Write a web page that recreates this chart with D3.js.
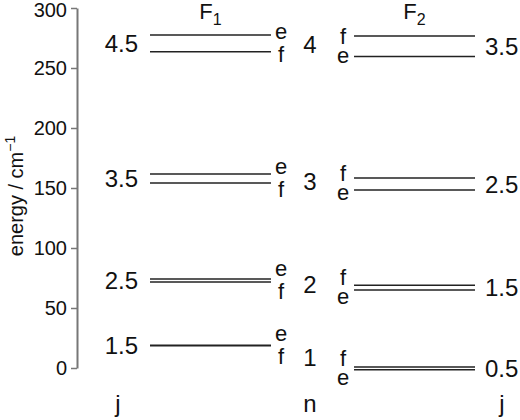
<!DOCTYPE html>
<html>
<head>
<meta charset="utf-8">
<script src="https://cdn.jsdelivr.net/npm/d3@7"></script>
<style>
  body { margin: 0; background: #fff; }
  svg text { font-family: "Liberation Sans", Arial, Helvetica, sans-serif; fill: #111; }
</style>
</head>
<body>
<div id="chart"></div>
<script>
// energy levels (cm^-1), one entry per rotational level
const f1J = ["1.5", "2.5", "3.5", "4.5"]
const nLabels = ["1", "2", "3", "4"]
const f2J = ["0.5", "1.5", "2.5", "3.5"]
const f1E = [18.9, 74.2, 161.7, 277.5]
const f1F = [18.5, 71.7, 154.2, 263.6]
const f2E = [-1.5, 65.0, 148.3, 259.5]
const f2F = [0.8, 68.9, 158.3, 276.7]
const yTicks = [0, 50, 100, 150, 200, 250, 300]
const groups = ["F1", "F2"]

const width = 520, height = 420

const svg = d3.select("#chart").append("svg")
  .attr("width", width).attr("height", height)

const y = d3.scaleLinear().domain([0, 300]).range([368, 8])
const x = d3.scaleBand().domain(groups).range([150, 475]).paddingInner(0.407)

// y axis
const axisX = 77
svg.append("g")
  .attr("transform", `translate(${axisX},0)`)
  .call(d3.axisLeft(y).tickValues(yTicks).tickSize(6).tickSizeOuter(0).tickPadding(4))
  .call(g => g.select(".domain").attr("stroke", "#777").attr("stroke-width", 2))
  .call(g => g.selectAll(".tick line").attr("stroke", "#777").attr("stroke-width", 1.5))
  .call(g => g.selectAll(".tick text").attr("font-size", 20).attr("fill", "#111")
    .attr("font-family", '"Liberation Sans", Arial, sans-serif'))
  .call(g => g.selectAll(".tick text").filter(d => d === 300).attr("dy", "0.42em"))

// axis title
const yt = svg.append("text")
  .attr("transform", "translate(23,196) rotate(-90)")
  .attr("text-anchor", "middle")
  .attr("font-size", 20)
yt.append("tspan").text("energy / cm")
yt.append("tspan").attr("dy", -8).attr("font-size", 14).text("\u22121")

// column titles
groups.forEach((g, i) => {
  const t = svg.append("text")
    .attr("x", x(g) + x.bandwidth() / 2)
    .attr("y", 19)
    .attr("text-anchor", "middle")
    .attr("font-size", 22)
  t.append("tspan").text("F")
  t.append("tspan").attr("dy", 6).attr("font-size", 16).text(i + 1)
})

const levels = nLabels.map((n, i) => ({
  n, j1: f1J[i], j2: f2J[i],
  f1: { e: f1E[i], f: f1F[i] },
  f2: { e: f2E[i], f: f2F[i] }
}))

const lab = 22
// place the two parity labels either side of their pair, pushed apart if too close
function parityLabels(pair, cx) {
  const ye = y(pair.e), yf = y(pair.f)
  const mid = (ye + yf) / 2
  const half = Math.max(Math.abs(ye - yf) / 2, 10.5)
  const eUp = ye <= yf
  const cE = eUp ? mid - half : mid + half
  const cF = eUp ? mid + half : mid - half
  svg.append("text").attr("x", cx).attr("y", cE + 0.27 * lab)
    .attr("text-anchor", "middle").attr("font-size", lab).text("e")
  svg.append("text").attr("x", cx).attr("y", cF + 0.36 * lab)
    .attr("text-anchor", "middle").attr("font-size", lab).text("f")
}

const lines = svg.append("g").attr("stroke", "#222").attr("stroke-width", 1.5)

levels.forEach(d => {
  ;[["F1", d.f1], ["F2", d.f2]].forEach(([g, pair]) => {
    ;["e", "f"].forEach(p => {
      lines.append("line")
        .attr("x1", x(g)).attr("x2", x(g) + x.bandwidth())
        .attr("y1", y(pair[p])).attr("y2", y(pair[p]))
    })
  })

  const m1 = (y(d.f1.e) + y(d.f1.f)) / 2
  const m2 = (y(d.f2.e) + y(d.f2.f)) / 2

  svg.append("text").attr("x", 138).attr("y", m1 + 0.36 * 24)
    .attr("text-anchor", "end").attr("font-size", 24).text(d.j1)
  svg.append("text").attr("x", 485).attr("y", m2 + 0.36 * 24)
    .attr("text-anchor", "start").attr("font-size", 24).text(d.j2)
  svg.append("text").attr("x", 310).attr("y", (m1 + m2) / 2 + 0.36 * 24)
    .attr("text-anchor", "middle").attr("font-size", 24).text(d.n)

  parityLabels(d.f1, 281)
  parityLabels(d.f2, 343)
})

// column headers at the bottom
;[["j", 118], ["n", 310], ["j", 502]].forEach(([t, cx]) => {
  svg.append("text").attr("x", cx).attr("y", 412)
    .attr("text-anchor", "middle").attr("font-size", 24).text(t)
})
</script>
</body>
</html>
